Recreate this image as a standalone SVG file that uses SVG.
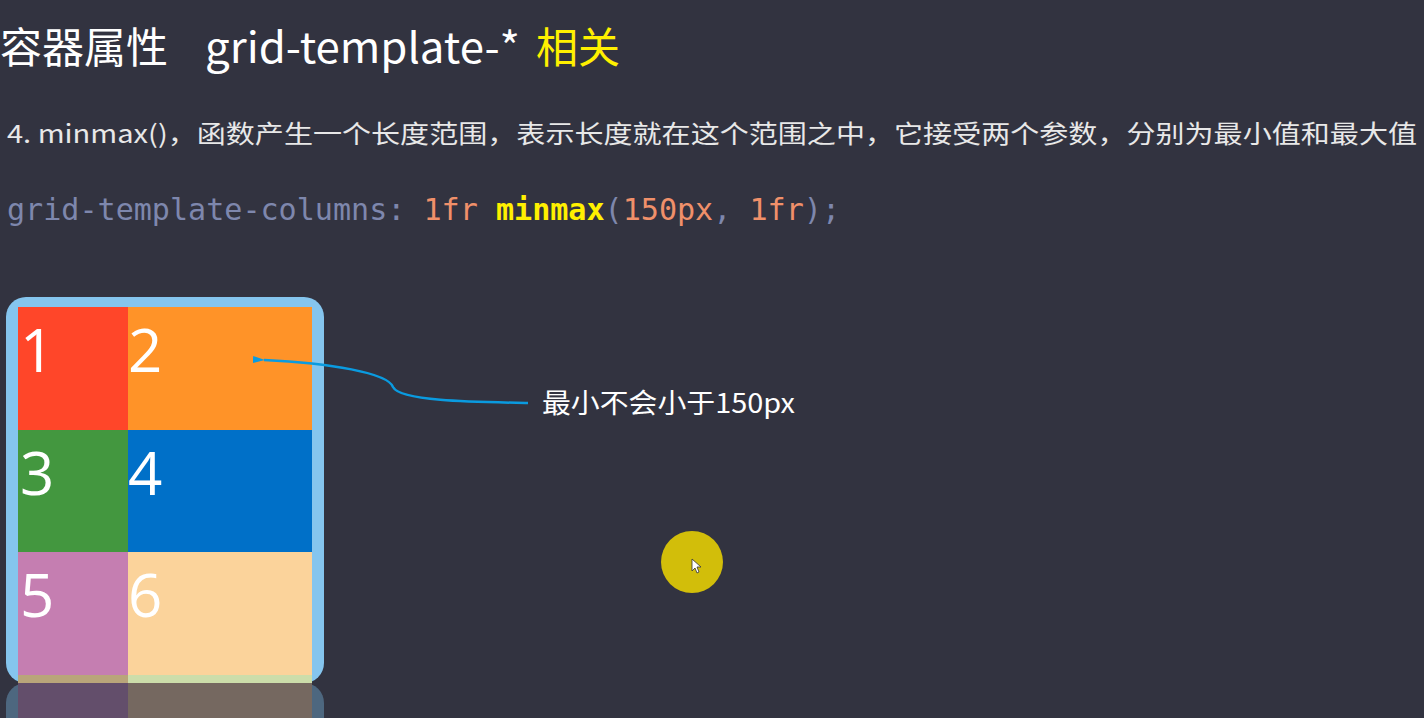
<svg xmlns="http://www.w3.org/2000/svg" width="1424" height="718" viewBox="0 0 1424 718">
<style>
.cjk{font-family:"Noto Sans CJK SC","Noto Sans",sans-serif}
.num{font-family:"Open Sans","Noto Sans",sans-serif;font-size:60px;fill:#ffffff}
.mono{font-family:"DejaVu Sans Mono","Liberation Mono",monospace;font-size:30px}
.g{fill:#7E87AD}.o{fill:#F0906A}.y{fill:#FFF000;font-weight:bold}
</style>
<defs>
<marker id="ah" viewBox="0 0 12 10" refX="1" refY="5" markerWidth="12" markerHeight="10" markerUnits="userSpaceOnUse" orient="auto">
<path d="M12,1.5 L0,5 L12,8.5 Z" fill="#0A9BE0"/>
</marker>
</defs>
<rect width="1424" height="718" fill="#323340"/>
<g id="title" class="cjk">
<text x="0" y="63" font-size="42" fill="#ffffff">容器属性</text>
<text x="205" y="63" font-size="42" fill="#ffffff" textLength="315" lengthAdjust="spacingAndGlyphs">grid-template-*</text>
<text x="536" y="63" font-size="42" fill="#FFF000">相关</text>
</g>
<g id="desc">
<text class="cjk" x="7" y="143" font-size="25" fill="#E8E8E8" textLength="1410" lengthAdjust="spacingAndGlyphs">4. minmax()，函数产生一个长度范围，表示长度就在这个范围之中，它接受两个参数，分别为最小值和最大值</text>
</g>
<g id="code">
<text class="mono" x="7" y="220" xml:space="preserve" textLength="833" lengthAdjust="spacingAndGlyphs"><tspan class="g">grid-template-columns: </tspan><tspan class="o">1fr</tspan><tspan class="g"> </tspan><tspan class="y">minmax</tspan><tspan class="g">(</tspan><tspan class="o">150px</tspan><tspan class="g">, </tspan><tspan class="o">1fr</tspan><tspan class="g">);</tspan></text>
</g>
<g id="reflection" opacity="0.45">
<rect x="6" y="683" width="318" height="60" rx="20" fill="#6FA6CC"/>
<rect x="18" y="683" width="110" height="40" fill="#A070A0"/>
<rect x="128" y="683" width="184" height="40" fill="#C8A888"/>
</g>
<g id="container">
<rect x="6" y="297" width="318" height="386" rx="20" fill="#85C5EE"/>
<rect x="18" y="675" width="110" height="8" fill="#B9A57A"/>
<rect x="128" y="675" width="184" height="8" fill="#CCDDAA"/>
</g>
<g id="cell1"><rect x="18" y="307" width="110" height="123" fill="#FF4629"/><text class="num" x="20" y="372">1</text></g>
<g id="cell2"><rect x="128" y="307" width="184" height="123" fill="#FF9328"/><text class="num" x="128" y="372">2</text></g>
<g id="cell3"><rect x="18" y="430" width="110" height="122" fill="#43973F"/><text class="num" x="20" y="495">3</text></g>
<g id="cell4"><rect x="128" y="430" width="184" height="122" fill="#0070C8"/><text class="num" x="128" y="495">4</text></g>
<g id="cell5"><rect x="18" y="552" width="110" height="123" fill="#C57EB1"/><text class="num" x="20" y="617">5</text></g>
<g id="cell6"><rect x="128" y="552" width="184" height="123" fill="#FBD39B"/><text class="num" x="128" y="617">6</text></g>
<g id="connectors">
<path d="M528,403 C470,402 400,401 393,387 C388,373 330,363 264,360" fill="none" stroke="#0A9BE0" stroke-width="2.5" marker-end="url(#ah)"/>
</g>
<g id="label">
<text class="cjk" x="542" y="413" font-size="27" fill="#ffffff" textLength="253" lengthAdjust="spacingAndGlyphs">最小不会小于150px</text>
</g>
<g id="cursor">
<circle cx="692" cy="562" r="31" fill="#D2BE0A"/>
<path d="M692,559 L692,571 L695,568 L697,573 L699,572 L697,567 L701,567 Z" fill="#ffffff" stroke="#333333" stroke-width="0.8"/>
</g>
</svg>
